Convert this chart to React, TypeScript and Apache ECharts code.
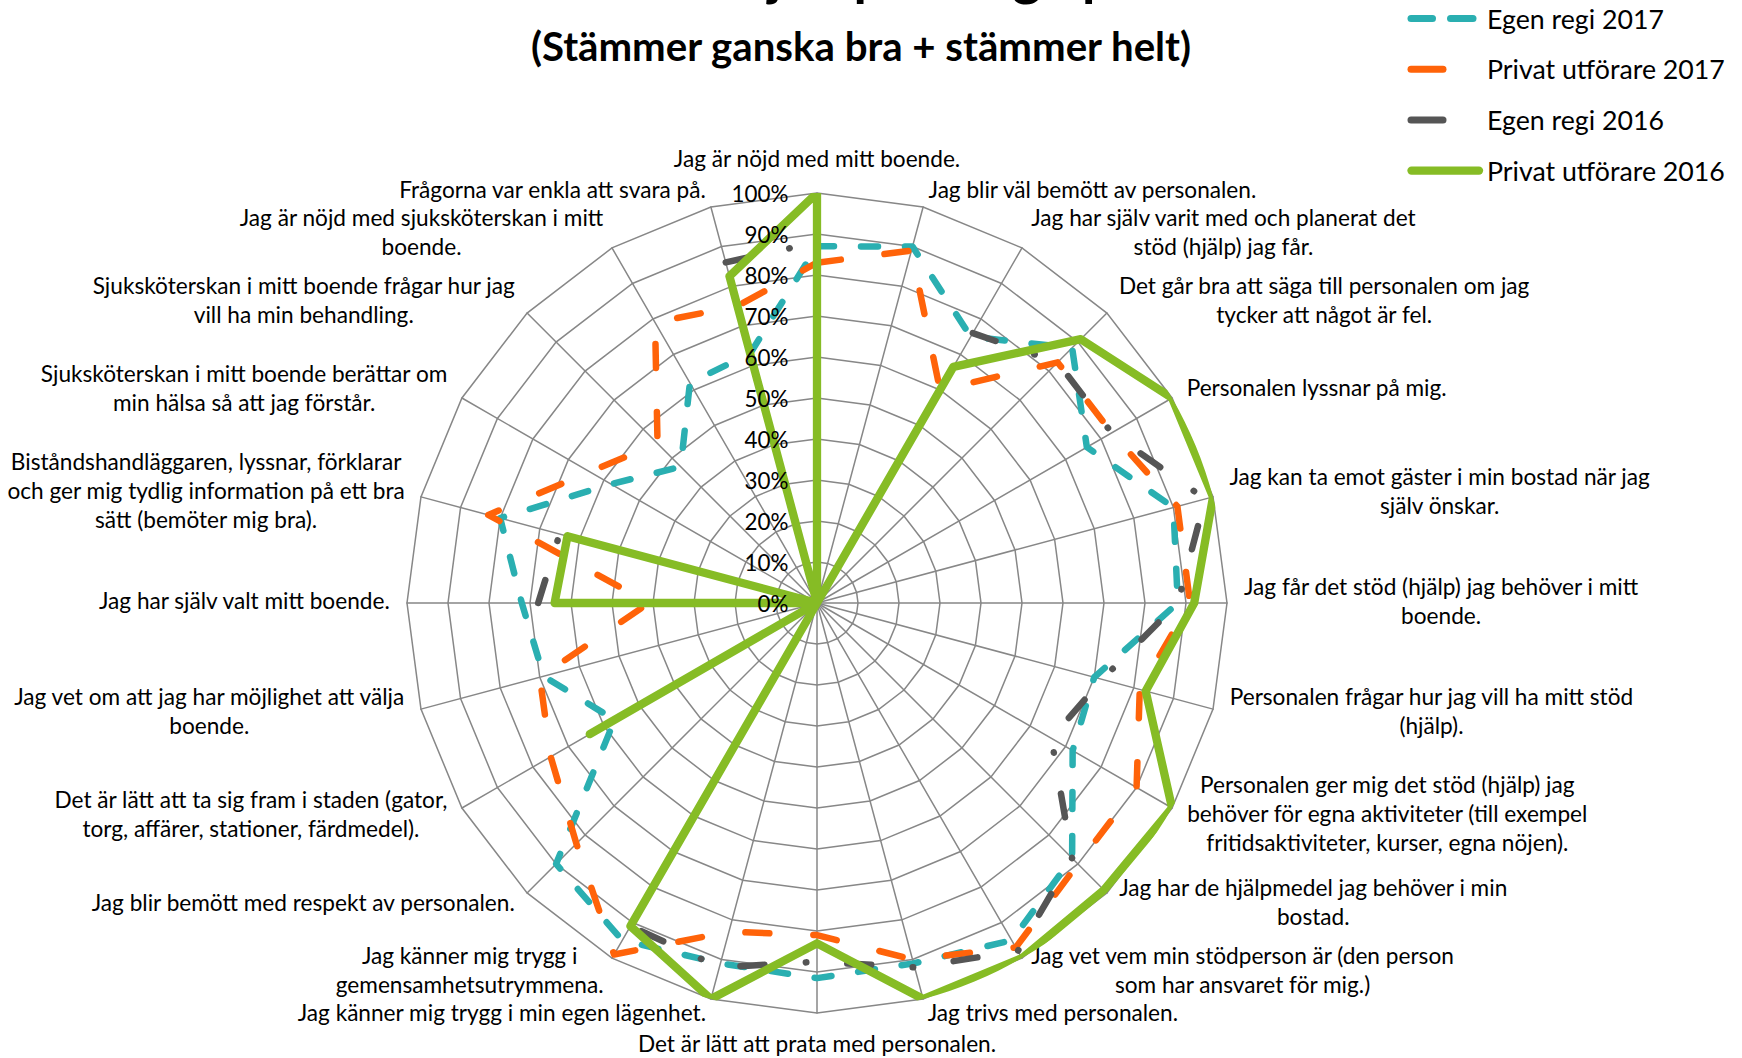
import React, { useEffect, useRef } from "react";
import * as echarts from "echarts";

const FONT = "Lato";
const W = 1742;
const H = 1058;

const TITLE = "Andelen nöjda per fråga per år";
const SUBTITLE = "(Stämmer ganska bra + stämmer helt)";

const CATEGORIES = [
  "Jag är nöjd med mitt boende.",
  "Jag blir väl bemött av personalen.",
  "Jag har själv varit med och planerat det\nstöd (hjälp) jag får.",
  "Det går bra att säga till personalen om jag\ntycker att något är fel.",
  "Personalen lyssnar på mig.",
  "Jag kan ta emot gäster i min bostad när jag\nsjälv önskar.",
  "Jag får det stöd (hjälp) jag behöver i mitt\nboende.",
  "Personalen frågar hur jag vill ha mitt stöd\n(hjälp).",
  "Personalen ger mig det stöd (hjälp) jag\nbehöver för egna aktiviteter (till exempel\nfritidsaktiviteter, kurser, egna nöjen).",
  "Jag har de hjälpmedel jag behöver i min\nbostad.",
  "Jag vet vem min stödperson är (den person\nsom har ansvaret för mig.)",
  "Jag trivs med personalen.",
  "Det är lätt att prata med personalen.",
  "Jag känner mig trygg i min egen lägenhet.",
  "Jag känner mig trygg i\ngemensamhetsutrymmena.",
  "Jag blir bemött med respekt av personalen.",
  "Det är lätt att ta sig fram i staden (gator,\ntorg, affärer, stationer, färdmedel).",
  "Jag vet om att jag har möjlighet att välja\nboende.",
  "Jag har själv valt mitt boende.",
  "Biståndshandläggaren, lyssnar, förklarar\noch ger mig tydlig information på ett bra\nsätt (bemöter mig bra).",
  "Sjuksköterskan i mitt boende berättar om\nmin hälsa så att jag förstår.",
  "Sjuksköterskan i mitt boende frågar hur jag\nvill ha min behandling.",
  "Jag är nöjd med sjuksköterskan i mitt\nboende.",
  "Frågorna var enkla att svara på.",
];

const SERIES_NAMES = [
  "Egen regi 2017",
  "Privat utförare 2017",
  "Egen regi 2016",
  "Privat utförare 2016",
];

const EGEN_2017 = [87, 90, 75, 88, 76, 90, 88, 70, 72, 88, 95, 91, 91.5, 91, 95, 90, 57, 69, 72, 80, 58, 47, 62, 63];
const PRIVAT_2017 = [83, 89, 60, 83, 83, 91, 91, 81.5, 90, 90, 97, 90, 81, 83, 99, 83, 75, 70, 41, 83, 64, 55, 79, 75];
const EGEN_2016 = [88, null, 76, 83, 83, 98, 88, 72, 66, 88, 98, 92, 87.5, 92, 91, null, 64, null, 68, 65, null, null, null, 86];
const PRIVAT_2016 = [100, 0, 66.5, 91, 100, 100, 92, 83, 100, 99, 100, 100, 83, 100, 91, 0, 64, 0, 64, 63, 0, 0, 0, 82.5];

const TICK_MAX = 100;
const TICK_STEP = 10;

const COLORS = ["#2aafb1", "#ff6309", "#555555", "#86bc25"];

const CX = 817;
const CY = 603;
const R = 410;
const GRID_COLOR = "#878787";

function fitSize(text: string, target: number, weight = "normal") {
  const ctx = document.createElement("canvas").getContext("2d")!;
  ctx.font = `${weight} 100px ${FONT}`;
  return (100 * target) / ctx.measureText(text).width;
}

function measure(text: string, size: number, weight = "normal") {
  const ctx = document.createElement("canvas").getContext("2d")!;
  ctx.font = `${weight} ${size}px ${FONT}`;
  return ctx.measureText(text).width;
}

export default function App() {
  const ref = useRef<HTMLDivElement>(null);

  useEffect(() => {
    if (!ref.current) return;
    const chart = echarts.init(ref.current, undefined, { renderer: "svg" });

    const labelSize = fitSize("Jag är nöjd med mitt boende.", 287);
    const tickSize = fitSize("100%", 57);
    const legendSize = fitSize("Privat utförare 2016", 238);
    const subSize = fitSize(SUBTITLE, 662, "bold");
    const titleSize = fitSize(TITLE, 732, "bold");
    const LINE_H = 29;

    const n = CATEGORIES.length;
    const step = 360 / n;

    // ECharts radar runs counter-clockwise: reverse all but the first
    const order = [0, ...Array.from({ length: n - 1 }, (_, k) => n - 1 - k)];

    const rich: Record<string, any> = {};
    CATEGORIES.forEach((c, i) => {
      const w = Math.max(...c.split("\n").map((l) => measure(l, labelSize))) + 1;
      rich["l" + i] = {
        width: w,
        align: "center",
        fontSize: labelSize,
        fontFamily: FONT,
        lineHeight: LINE_H,
        color: "#000",
      };
    });

    const mk = (idx: number, values: (number | null)[], width: number, dash: any, z: number) => {
      const closed = [...values, values[0]];
      const data = closed.map((v, i) => {
        const ang = i * step;
        if (v == null) return ["-", ang];
        const prev = closed[(i - 1 + n) % n];
        const next = closed[(i + 1) % n];
        if (prev == null && next == null) {
          return {
            value: [v, ang],
            symbol: "circle",
            symbolSize: width,
            itemStyle: { color: COLORS[idx] },
          };
        }
        return [v, ang];
      });
      return {
        type: "line",
        name: SERIES_NAMES[idx],
        coordinateSystem: "polar",
        data,
        symbol: "none",
        showSymbol: true,
        connectNulls: false,
        smooth: false,
        silent: true,
        z,
        lineStyle: { color: COLORS[idx], width, type: dash, cap: "round", join: "round" },
      };
    };

    const legendY0 = 18.5;
    const legendStep = 50.7;
    const legendGraphics: any[] = [];
    SERIES_NAMES.forEach((name, i) => {
      const y = legendY0 + i * legendStep;
      const lw = i === 3 ? 8.3 : 7;
      const segs =
        i === 0
          ? [[1411, 1432.5], [1450.5, 1473]]
          : i === 3
          ? [[1411.5, 1479]]
          : [[1411, 1443]];
      segs.forEach(([a, b]) =>
        legendGraphics.push({
          type: "line",
          shape: { x1: a, y1: y, x2: b, y2: y },
          style: { stroke: COLORS[i], lineWidth: lw, lineCap: "round" },
        })
      );
      legendGraphics.push({
        type: "text",
        x: 1487,
        y,
        style: {
          text: name,
          fill: "#000",
          font: `${legendSize}px ${FONT}`,
          align: "left",
          verticalAlign: "middle",
        },
      });
    });

    const option: any = {
      animation: false,
      backgroundColor: "#ffffff",
      radar: {
        center: [CX, CY],
        radius: R,
        startAngle: 90,
        splitNumber: TICK_MAX / TICK_STEP,
        shape: "polygon",
        indicator: order.map((i) => ({ name: CATEGORIES[i], min: 0, max: TICK_MAX })),
        axisNameGap: 16,
        axisName: {
          color: "#000",
          fontFamily: FONT,
          fontSize: labelSize,
          lineHeight: LINE_H,
          padding: [0, 0, 4.4, 0],
          rich,
          formatter: (name: string) => {
            const i = CATEGORIES.indexOf(name);
            return name
              .split("\n")
              .map((l) => `{l${i}|${l}}`)
              .join("\n");
          },
        },
        axisLine: { lineStyle: { color: GRID_COLOR, width: 1.5 } },
        splitLine: { lineStyle: { color: GRID_COLOR, width: 1.5 } },
        splitArea: { show: false },
        axisTick: { show: false },
        axisLabel: { show: false },
        z: 1,
      },
      polar: { center: [CX, CY], radius: R },
      angleAxis: {
        type: "value",
        min: 0,
        max: 360,
        startAngle: 90,
        clockwise: true,
        axisLine: { show: false },
        axisTick: { show: false },
        axisLabel: { show: false },
        splitLine: { show: false },
      },
      radiusAxis: {
        type: "value",
        min: 0,
        max: TICK_MAX,
        axisLine: { show: false },
        axisTick: { show: false },
        axisLabel: { show: false },
        splitLine: { show: false },
      },
      grid: { left: CX - 0.5, top: CY - R, width: 1, height: R },
      xAxis: { type: "value", show: false },
      yAxis: {
        type: "value",
        min: 0,
        max: TICK_MAX,
        interval: TICK_STEP,
        axisLine: { show: false },
        axisTick: { show: false },
        splitLine: { show: false },
        axisLabel: {
          formatter: "{value}%",
          margin: 28,
          color: "#000",
          fontFamily: FONT,
          fontSize: tickSize,
        },
        z: 8,
      },
      series: [
        mk(0, EGEN_2017, 6.5, [17, 27], 3),
        mk(1, PRIVAT_2017, 6.5, [24, 44], 4),
        mk(2, EGEN_2016, 6.5, [24, 41, 0.5, 41.5], 5),
        mk(3, PRIVAT_2016, 8.3, "solid", 6),
      ],
      graphic: [
        {
          type: "text",
          x: 857,
          y: -26,
          style: {
            text: TITLE,
            fill: "#000",
            font: `bold ${titleSize}px ${FONT}`,
            align: "center",
            verticalAlign: "middle",
          },
        },
        {
          type: "text",
          x: 861,
          y: 45,
          style: {
            text: SUBTITLE,
            fill: "#000",
            font: `bold ${subSize}px ${FONT}`,
            align: "center",
            verticalAlign: "middle",
          },
        },
        ...legendGraphics,
      ],
    };

    chart.setOption(option);
    return () => chart.dispose();
  }, []);

  return (
    <div
      ref={ref}
      style={{ position: "fixed", left: 0, top: 0, width: W, height: H, background: "#fff" }}
    />
  );
}
